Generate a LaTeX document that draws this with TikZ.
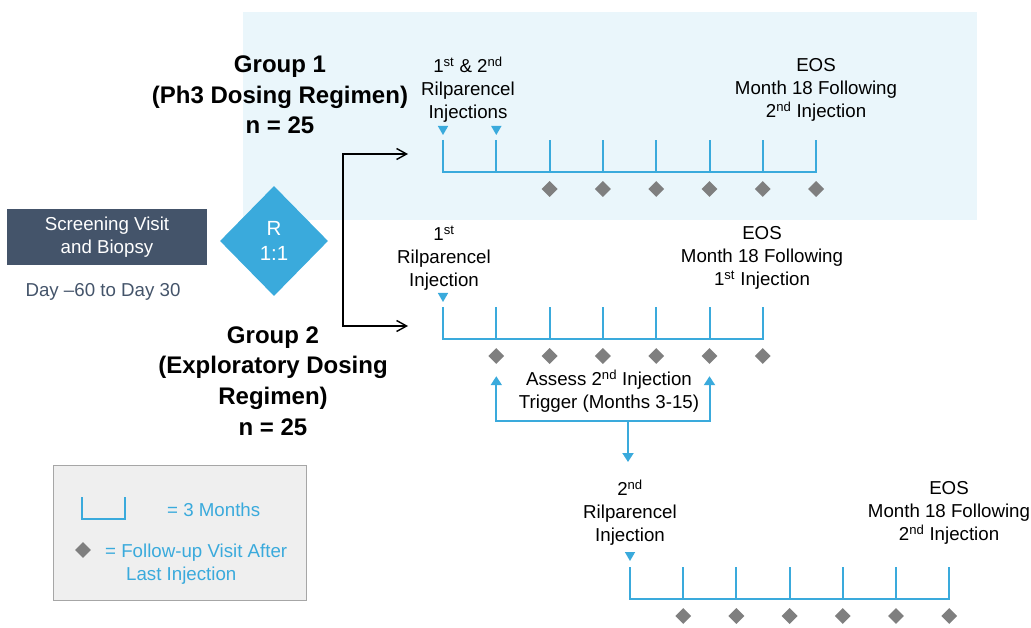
\documentclass[tikz,border=0pt]{standalone}
\usepackage{fontspec}
\setmainfont{Liberation Sans}
\usepackage{xcolor}
\usetikzlibrary{arrows.meta, positioning, calc, shapes.geometric}
\definecolor{tlblue}{HTML}{3AAADC}
\definecolor{bgblue}{HTML}{EAF6FB}
\definecolor{slate}{HTML}{44546A}
\definecolor{vgray}{HTML}{7F7F7F}
\definecolor{leggray}{HTML}{EFEFEF}
\definecolor{legline}{HTML}{A6A6A6}
\newcommand{\sy}[1]{\textsuperscript{#1}}

\begin{document}
\begin{tikzpicture}[
        x=1pt, y=-1pt,
        inner sep=0pt,
        font=\fontsize{18.7}{23}\selectfont,
        % timeline conventions: 3-month brackets, blue 2pt
        tl/.style    ={draw=tlblue, line width=2pt},
        visit/.style ={diamond, fill=vgray, minimum width=16pt, minimum height=16pt},
        inj/.style   ={regular polygon, regular polygon sides=3, shape border rotate=180,
                       fill=tlblue, minimum size=12pt},
        lbl/.style   ={align=center, text=black},
        grp/.style   ={align=center, font=\fontsize{24}{30.7}\selectfont\bfseries},
        conn/.style  ={draw=black, line width=1.4pt},
        barrow/.style={draw=tlblue, line width=2pt},
        btip/.style  ={arrows={Straight Barb[length=10pt,width=11pt]-Straight Barb[length=10pt,width=11pt]}},
        ttip/.tip    ={Triangle[length=9pt,width=11pt]}
    ]
    \useasboundingbox (0,0) rectangle (1031,628);

    %% ===== Group 1 band =====
    \fill[bgblue] (243,12) rectangle (977,220);
    \node[grp] (grp1) at (280,95) {Group 1\\(Ph3 Dosing Regimen)\\n = 25};

    \begin{scope}[shift={(443,172)}]
        \draw[tl] (0,-32) -- (0,0) -- (7*53.3,0) -- (7*53.3,-32);
        \foreach \i in {1,...,6} \draw[tl] (\i*53.3,0) -- (\i*53.3,-32);
        \foreach \i in {2,...,7} \node[visit] (g1v\i) at (\i*53.3,17) {};
        \foreach \i in {0,1} \node[inj] (g1i\i) at (\i*53.3,-43) {};
    \end{scope}
    \node[lbl] (g1inj) at (468,90) {1\sy{st} \& 2\sy{nd}\\Rilparencel\\Injections};
    \node[lbl] (g1eos) at (816,90) {EOS\\Month 18 Following\\2\sy{nd} Injection};

    %% ===== Screening and randomisation =====
    \node[fill=slate, text=white, minimum width=200pt, minimum height=56pt, align=center]
        (screen) at (107,237) {Screening Visit\\and Biopsy};
    \node[text=slate] (day) at (103,292) {Day –60 to Day 30};
    \node[diamond, fill=tlblue, text=white, minimum width=108pt, minimum height=110pt,
          align=center, font=\fontsize{20.5}{25}\selectfont] (rand) at (274,241) {R\\1:1};

    \coordinate (g1in) at (408,154);
    \coordinate (g2in) at (408,326);
    \draw[conn, btip] (g1in) -- ++(-65,0) |- (g2in);

    %% ===== Group 2 =====
    \node[grp] (grp2) at (273,381) {Group 2\\(Exploratory Dosing\\Regimen)\\n = 25};

    \begin{scope}[shift={(443,339)}]
        \draw[tl] (0,-32) -- (0,0) -- (6*53.3,0) -- (6*53.3,-32);
        \foreach \i in {1,...,5} \draw[tl] (\i*53.3,0) -- (\i*53.3,-32);
        \foreach \i in {1,...,6} \node[visit] (g2v\i) at (\i*53.3,17) {};
        \node[inj] (g2i0) at (0,-43) {};
    \end{scope}
    \node[lbl] (g2inj) at (444,258) {1\sy{st}\\Rilparencel\\Injection};
    \node[lbl] (g2eos) at (762,258) {EOS\\Month 18 Following\\1\sy{st} Injection};

    % trigger window between months 3 and 15
    \node[lbl] (trig) at (609,391) {Assess 2\sy{nd} Injection\\Trigger (Months 3-15)};
    \draw[barrow, ttip-ttip] ([yshift=-12pt]g2v1.south) -- ++(0,45) -| ([yshift=-12pt]g2v5.south);
    \coordinate (split) at (628,420.5);
    \coordinate (g3top) at (628,462);
    \draw[barrow, -ttip] (split) -- (g3top);

    %% ===== Group 2, after 2nd injection =====
    \begin{scope}[shift={(630,599)}]
        \draw[tl] (0,-32) -- (0,0) -- (6*53.2,0) -- (6*53.2,-32);
        \foreach \i in {1,...,5} \draw[tl] (\i*53.2,0) -- (\i*53.2,-32);
        \foreach \i in {1,...,6} \node[visit] (g3v\i) at (\i*53.2,17) {};
        \node[inj] (g3i0) at (0,-44) {};
    \end{scope}
    \node[lbl] (g3inj) at (630,513) {2\sy{nd}\\Rilparencel\\Injection};
    \node[lbl] (g3eos) at (949,513) {EOS\\Month 18 Following\\2\sy{nd} Injection};

    %% ===== Legend =====
    \node[draw=legline, fill=leggray, line width=0.8pt, minimum width=253pt, minimum height=135pt]
        (legend) at (179.5,532.5) {};
    \draw[draw=tlblue, line width=1.3pt] (82,497) -- (82,519) -- (125,519) -- (125,497);
    \node[text=tlblue, anchor=west] (leg3m) at (167,510) {= 3 Months};
    \node[visit] (legv) at (83,550) {};
    \node[text=tlblue, align=left, anchor=west] (legfu) at (105,564)
        {= Follow-up Visit After\\\hspace*{21pt}Last Injection};

\end{tikzpicture}
\end{document}
